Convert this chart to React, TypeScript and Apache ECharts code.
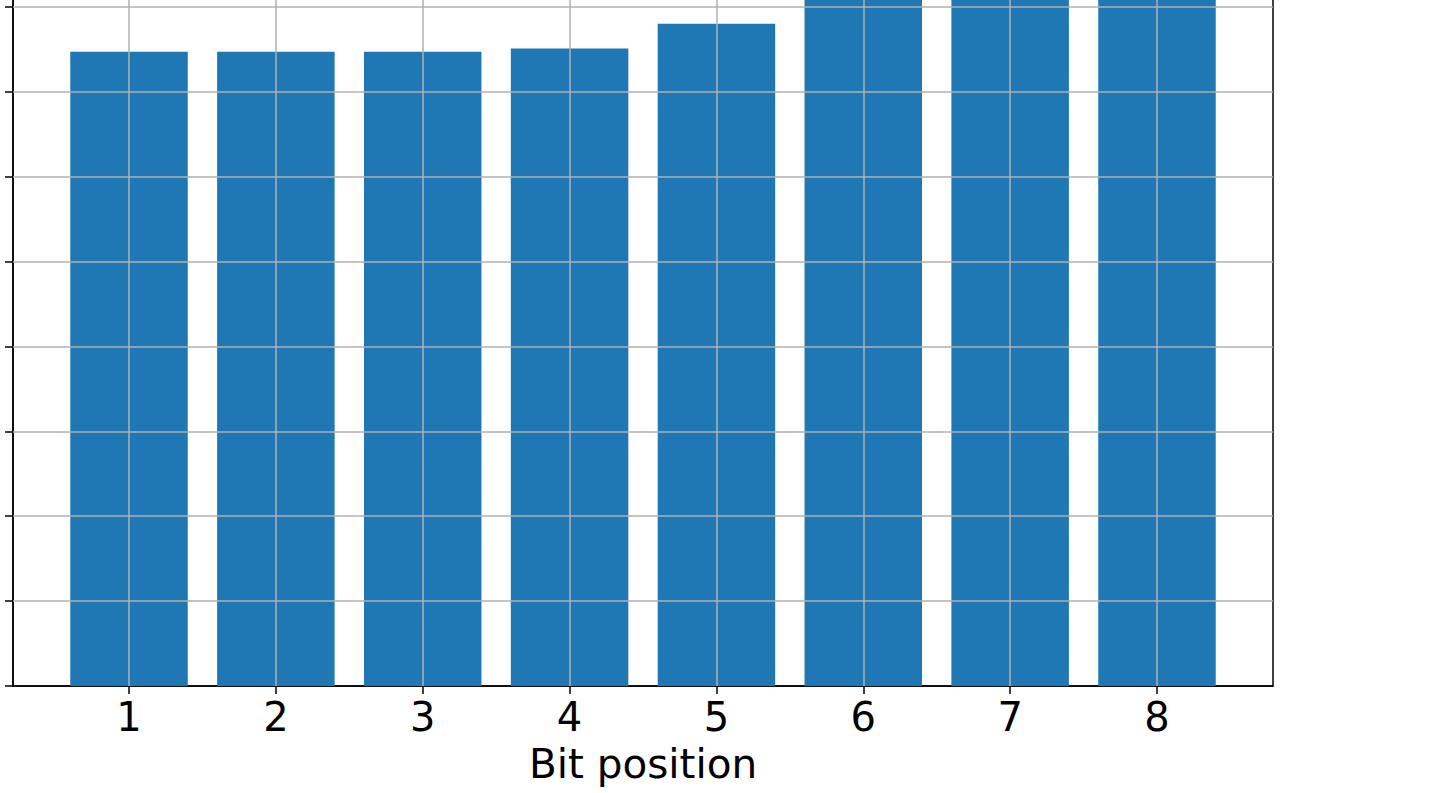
import React, { useEffect, useRef } from "react";
import * as echarts from "echarts";

const bitPositions = [1, 2, 3, 4, 5, 6, 7, 8];
const barValues = [7.47, 7.47, 7.47, 7.51, 7.8, 8.57, 8.57, 8.57];
const yGridValues = [1, 2, 3, 4, 5, 6, 7, 8, 9];
const xLabel = "Bit position";

export default function App() {
  const ref = useRef<HTMLDivElement>(null);
  useEffect(() => {
    if (!ref.current) return;
    const chart = echarts.init(ref.current, undefined, { renderer: "svg" });
    const font = "DejaVu Sans";
    chart.setOption({
      animation: false,
      backgroundColor: "#ffffff",
      grid: {
        left: 13,
        right: 162,
        top: 21.9,
        bottom: 107,
        show: true,
        borderColor: "#000",
        borderWidth: 1.5,
        backgroundColor: "transparent",
      },
      xAxis: {
        type: "value",
        min: 0.21,
        max: 8.79,
        name: xLabel,
        nameLocation: "middle",
        nameGap: 57,
        nameTextStyle: { fontSize: 40.5, fontFamily: font, color: "#000" },
        axisLine: { show: true, lineStyle: { color: "#000", width: 1.5 } },
        axisTick: {
          show: true,
          length: 8,
          customValues: bitPositions,
          lineStyle: { color: "#000", width: 1.5 },
        },
        axisLabel: {
          show: true,
          customValues: bitPositions,
          fontSize: 40,
          fontFamily: font,
          color: "#000",
          margin: 11,
        },
        splitLine: { show: false },
      },
      yAxis: {
        type: "value",
        min: 0,
        max: 9,
        interval: 1,
        axisLine: { show: true, lineStyle: { color: "#000", width: 1.5 } },
        axisTick: { show: true, length: 8, lineStyle: { color: "#000", width: 1.5 } },
        axisLabel: { show: false },
        splitLine: { show: false },
      },
      series: [
        {
          type: "bar",
          data: bitPositions.map((x, i) => [x, barValues[i]]),
          barWidth: 117.5,
          itemStyle: { color: "#1f77b4" },
          z: 2,
        },
        {
          type: "line",
          data: [],
          z: 10,
          silent: true,
          markLine: {
            silent: true,
            symbol: ["none", "none"],
            label: { show: false },
            lineStyle: { type: "solid", color: "#b0b0b0", width: 1.5 },
            emphasis: { disabled: true },
            data: [
              ...bitPositions.map((v) => ({ xAxis: v })),
              ...yGridValues.map((v) => ({ yAxis: v })),
            ],
          },
        },
      ],
    });
    return () => chart.dispose();
  }, []);
  return (
    <div
      ref={ref}
      style={{ position: "absolute", left: 0, top: -100, width: 1435, height: 893 }}
    />
  );
}
